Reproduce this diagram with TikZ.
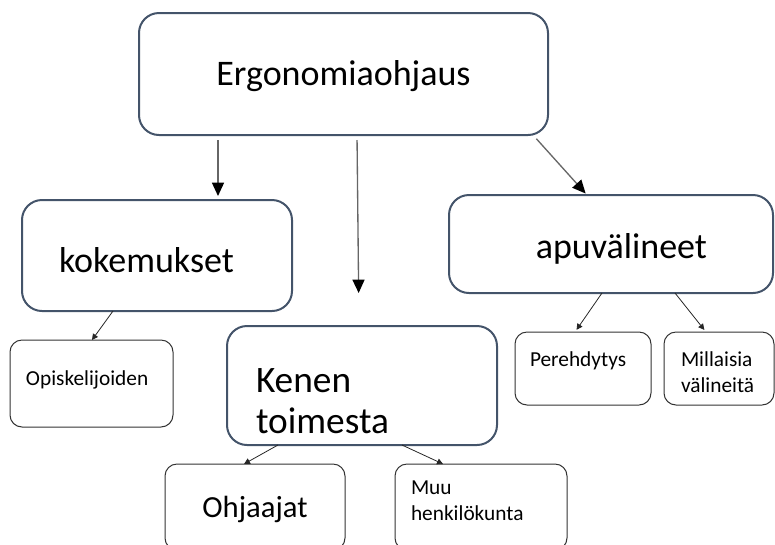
\documentclass[tikz,border=0pt]{standalone}
\usepackage{fontspec}
\setmainfont{Carlito}
\usetikzlibrary{arrows.meta}
\definecolor{boxline}{RGB}{68,84,106}
\begin{document}
\begin{tikzpicture}[x=0.75pt,y=-0.75pt,
  bigbox/.style={draw=boxline,line width=1.5pt,rounded corners=15pt,anchor=north west,inner ysep=0pt,outer sep=0pt},
  smallbox/.style={draw=black!80,line width=0.75pt,rounded corners=9pt,anchor=north west,inner ysep=0pt,outer sep=0pt,
    font=\fontsize{16}{19.5}\selectfont},
  bigarrow/.style={draw=black!60,line width=1pt,-{Triangle[length=10pt,width=9pt,black]},shorten <=3.75pt},
  smallarrow/.style={draw=black!85,line width=0.6pt,-{Triangle[length=4.5pt,width=4.5pt]}}]
\useasboundingbox (0,0) rectangle (775,544);
\node[bigbox,align=center,inner xsep=7.5pt,text width=291.75pt,text height=54pt,text depth=37.5pt,
  font=\fontsize{27}{32}\selectfont] (ergo) at (139,13) {Ergonomiaohjaus};
\node[bigbox,align=left,inner xsep=27.75pt,text width=147pt,text height=54pt,text depth=29.25pt,
  font=\fontsize{27}{32}\selectfont] (kok) at (22,200) {kokemukset};
\node[bigbox,align=right,inner xsep=49.5pt,text width=144pt,text height=47.25pt,text depth=26.25pt,
  font=\fontsize{27}{32}\selectfont] (apu) at (449,195) {apuvälineet};
\node[bigbox,align=left,inner xsep=21.75pt,text width=159pt,text height=49.5pt,text depth=39.75pt,
  font=\fontsize{28}{30.75}\selectfont] (ken) at (227,326) {Kenen\\toimesta};
\node[smallbox,align=left,inner xsep=12pt,text width=98.25pt,text height=33.75pt,text depth=31.5pt] (opi) at (10,340) {Opiskelijoiden};
\node[smallbox,align=left,inner xsep=11.25pt,text width=79.5pt,text height=25.5pt,text depth=29.25pt] (per) at (515,332) {Perehdytys};
\node[smallbox,align=left,inner xsep=12.75pt,text width=57pt,text height=25.5pt,text depth=29.25pt] (mil) at (664,332) {Millaisia\\välineitä};
\node[smallbox,align=center,inner xsep=7.5pt,text width=120pt,text height=39.75pt,text depth=24.75pt,
  font=\fontsize{23}{28}\selectfont] (ohj) at (165,464) {Ohjaajat};
\node[smallbox,align=left,inner xsep=12pt,text width=105pt,text height=22.5pt,text depth=42pt] (muu) at (395,464) {Muu\\henkilökunta};
\draw[bigarrow,shorten >=3pt] (218,0 |- ergo.south) -- (218,0 |- kok.north);
\draw[bigarrow,shorten >=24.75pt] (357,0 |- ergo.south) -- (359,0 |- ken.north);
\draw[bigarrow,shorten >=1.5pt] (533,0 |- ergo.south) -- (587,0 |- apu.north);
\draw[smallarrow] (113,0 |- kok.south) -- (92,0 |- opi.north);
\draw[smallarrow,shorten >=2pt] (602,0 |- apu.south) -- (575,0 |- per.north);
\draw[smallarrow,shorten >=2pt] (675,0 |- apu.south) -- (706,0 |- mil.north);
\draw[smallarrow] (278,0 |- ken.south) -- (244,0 |- ohj.north);
\draw[smallarrow] (402,0 |- ken.south) -- (443,0 |- muu.north);
\end{tikzpicture}
\end{document}
